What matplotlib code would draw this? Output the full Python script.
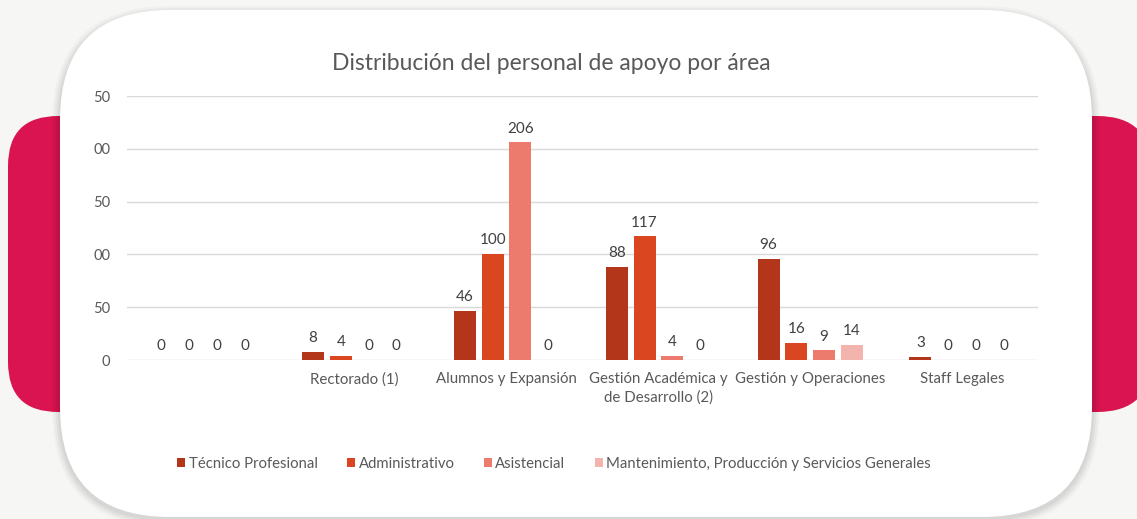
import matplotlib.pyplot as plt
import numpy as np
from matplotlib.patches import FancyBboxPatch

plt.rcParams["font.family"] = ["Lato", "DejaVu Sans"]

TITLE = "Distribución del personal de apoyo por área"
CATEGORIES = [
    "",
    "Rectorado (1)",
    "Alumnos y Expansión",
    "Gestión Académica y\nde Desarrollo (2)",
    "Gestión y Operaciones",
    "Staff Legales",
]
SERIES = [
    "Técnico Profesional",
    "Administrativo",
    "Asistencial",
    "Mantenimiento, Producción y Servicios Generales",
]
TECNICO = [0, 8, 46, 88, 96, 3]
ADMINISTRATIVO = [0, 4, 100, 117, 16, 0]
ASISTENCIAL = [0, 0, 206, 4, 9, 0]
MANTENIMIENTO = [0, 0, 0, 0, 14, 0]
Y_TICKS = [0, 50, 100, 150, 200, 250]
Y_TICK_TEXT = ["0", "50", "00", "50", "00", "50"]

COLORS = ["#b3361a", "#d9461f", "#ec7b6e", "#f2b4ad"]
TEXT = "#595959"

W, H = 1137, 519
fig = plt.figure(figsize=(W / 100, H / 100), dpi=100)
fig.patch.set_facecolor("#f6f6f4")

# backdrop: crimson tabs, shadowed white card
bg = fig.add_axes([0, 0, 1, 1], zorder=0)
bg.set_xlim(0, W)
bg.set_ylim(H, 0)
bg.axis("off")


def rounded(x0, y0, x1, y1, r, **kw):
    p = FancyBboxPatch((x0 + r, y0 + r), (x1 - x0) - 2 * r, (y1 - y0) - 2 * r,
                       boxstyle=f"round,pad={r}", **kw)
    bg.add_patch(p)
    return p


rounded(8, 116, 200, 412, 50, fc="#da1450", ec="none")
rounded(1000, 116, 1152, 412, 55, fc="#da1450", ec="none")
for i, a in enumerate([0.025, 0.03, 0.035, 0.04]):
    s = 8 - 2 * i
    rounded(60 - s, 10 - s + 4, 1092 + s, 517 + s + 2, 110 + s, fc="black", ec="none", alpha=a)
rounded(60, 10, 1092, 517, 110, fc="white", ec="none")

ax = fig.add_axes([127 / W, 1 - 360 / H, 911 / W, 264 / H], zorder=1)
ax.patch.set_alpha(0)

values = [TECNICO, ADMINISTRATIVO, ASISTENCIAL, MANTENIMIENTO]
x = np.arange(len(CATEGORIES))
width = 0.145
step = 0.183
for k, (name, vals, color) in enumerate(zip(SERIES, values, COLORS)):
    pos = x + (k - 1.5) * step
    ax.bar(pos, vals, width, color=color, label=name, zorder=3)
    for xi, v in zip(pos, vals):
        ax.annotate(str(v), (xi, v), xytext=(0, 5), textcoords="offset points",
                    ha="center", va="bottom", fontsize=11, color="#404040")

ax.set_xlim(-0.5, len(CATEGORIES) - 0.5)
ax.set_ylim(0, 250)
ax.set_yticks(Y_TICKS)
ax.set_yticklabels(Y_TICK_TEXT)
ax.set_xticks(x)
ax.set_xticklabels(CATEGORIES, linespacing=1.3)
ax.tick_params(axis="y", length=0, pad=12, labelsize=10.5, labelcolor=TEXT)
ax.tick_params(axis="x", length=0, pad=9, labelsize=10.8, labelcolor=TEXT)
ax.grid(axis="y", color="#d9d9d9", linewidth=1, zorder=0)
for sp in ax.spines.values():
    sp.set_visible(False)

fig.text(551 / W, 1 - 64 / H, TITLE, ha="center", va="center", fontsize=16.5, color=TEXT)

leg = fig.legend(loc="center", bbox_to_anchor=(554 / W, 1 - 464 / H), ncol=4, frameon=False,
                 fontsize=10.7, handlelength=0.55, handleheight=0.55, handletextpad=0.25,
                 columnspacing=1.95, labelcolor=TEXT)

fig.savefig("out.png", dpi=100, facecolor=fig.get_facecolor())
